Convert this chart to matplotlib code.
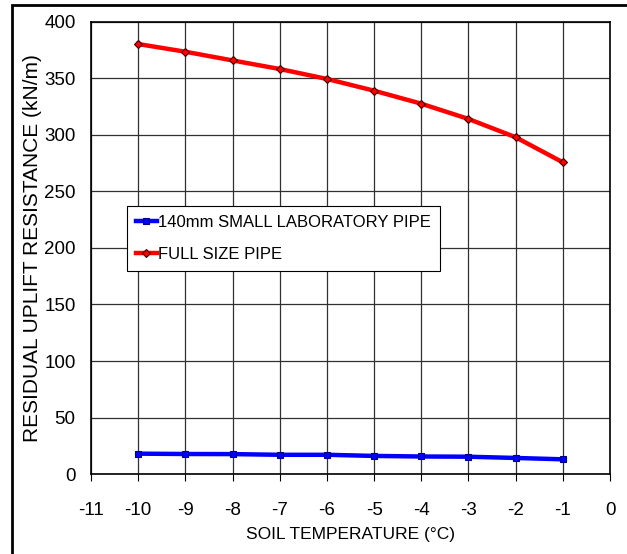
import matplotlib
matplotlib.use("Agg")
import matplotlib.pyplot as plt
from matplotlib.patches import Rectangle

plt.rcParams["font.family"] = ["Liberation Sans", "DejaVu Sans"]
plt.rcParams["axes.unicode_minus"] = False

# soil temperature (deg C) and residual uplift resistance (kN/m)
temps = [-10, -9, -8, -7, -6, -5, -4, -3, -2, -1]
small_pipe = [18.0, 17.7, 17.6, 17.0, 17.0, 16.0, 15.5, 15.3, 14.2, 13.0]
full_pipe = [380.5, 373.7, 366.0, 358.4, 349.6, 339.2, 327.7, 314.2, 298.0, 275.8]
xticks = list(range(-11, 1))
yticks = list(range(0, 401, 50))

fig = plt.figure(figsize=(6.27, 5.54), dpi=100)
fig.patch.set_facecolor("white")
ax = fig.add_axes([0.145, 0.1444, 0.828, 0.8159])

ax.plot(temps, small_pipe, color="#0000ff", lw=3.2, marker="s", ms=5,
        mfc="#0000ff", mec="#000080", mew=0.8, label="140mm SMALL LABORATORY PIPE", zorder=3)
ax.plot(temps, full_pipe, color="#ff0000", lw=3.2, marker="D", ms=3.6,
        mfc="#ff0000", mec="#400000", mew=0.8, label="FULL SIZE PIPE", zorder=3)

ax.set_xlim(-11, 0)
ax.set_ylim(0, 400)
ax.set_xticks(xticks)
ax.set_yticks(yticks)
ax.grid(True, color="#303030", lw=0.9)
ax.tick_params(axis="x", direction="out", length=5, labelsize=13.5, pad=15)
ax.tick_params(axis="y", direction="in", length=0, labelsize=13.5, pad=11)
for sp in ax.spines.values():
    sp.set_color("black")
    sp.set_linewidth(1.2)

ax.set_xlabel("SOIL TEMPERATURE (°C)", fontsize=12.5, labelpad=6)
ax.set_ylabel("RESIDUAL UPLIFT RESISTANCE (kN/m)", fontsize=15)
ax.yaxis.set_label_coords(-0.094, 0.5)

leg = ax.legend(loc="upper left", bbox_to_anchor=(0.069, 0.593), fontsize=12,
                handlelength=1.25, handletextpad=0.1, borderpad=0.55,
                labelspacing=1.0, borderaxespad=0, fancybox=False, framealpha=1)
leg.get_frame().set_edgecolor("black")
leg.get_frame().set_linewidth(0.8)

# outer frame around the figure
fig.add_artist(Rectangle((12 / 627, -0.05), 1.1, 1 - 5 / 554 + 0.05, transform=fig.transFigure,
                         fill=False, ec="black", lw=2, clip_on=False))

fig.savefig("out.png", dpi=100, facecolor="white")
